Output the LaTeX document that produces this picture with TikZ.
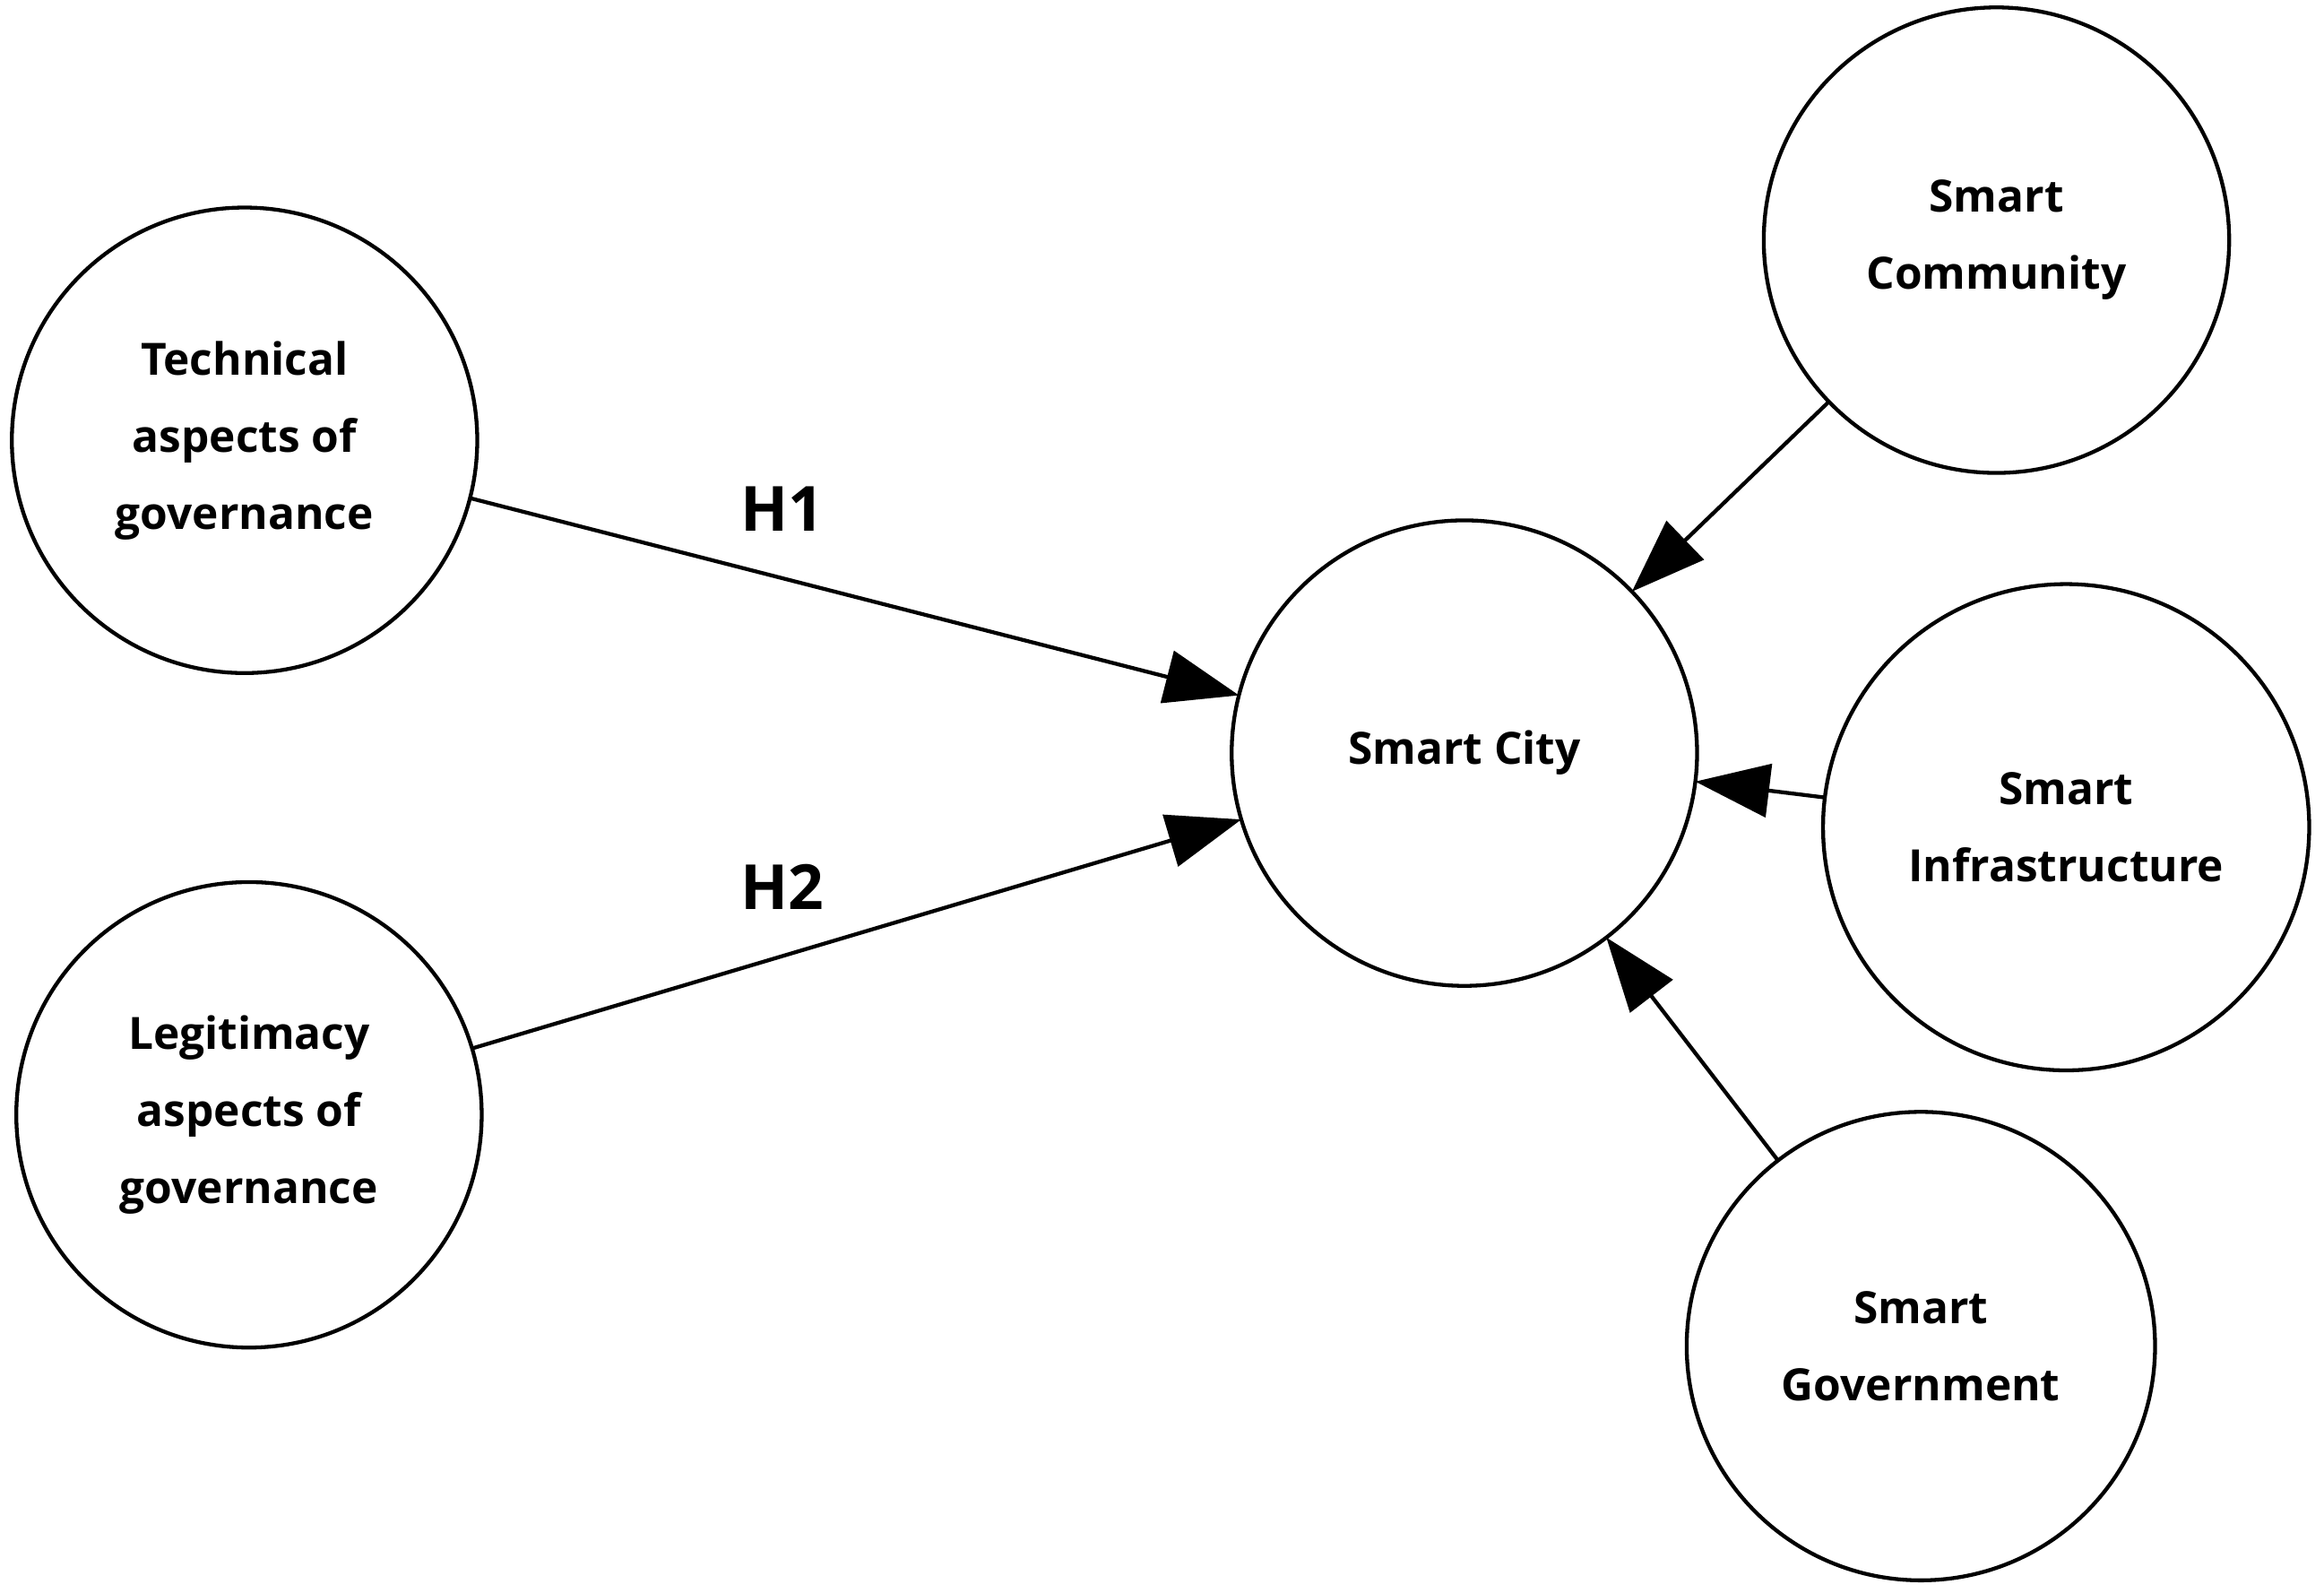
\documentclass[tikz,border=0pt]{standalone}
\usepackage{fontspec}
\setmainfont{Open Sans}
\usetikzlibrary{arrows.meta}
\begin{document}
\begin{tikzpicture}[x=1pt,y=-1pt,
  cnode/.style={circle,draw,line width=2.6pt,minimum size=314pt,inner sep=0pt,outer sep=0pt,align=center,font=\fontsize{30}{52}\selectfont\bfseries},
  conn/.style={line width=2.6pt,-{Triangle[length=50pt,width=36pt]}},
  hlab/.style={font=\fontsize{42}{50}\selectfont\bfseries}]
\useasboundingbox (0,0) rectangle (1568,1074);
\node[cnode] (tech) at (165,297) {Technical\\aspects of\\governance};
\node[cnode] (legit) at (168,752) {Legitimacy\\aspects of\\governance};
\node[cnode] (city) at (988,508) {Smart City};
\node[cnode] (comm) at (1347,162) {Smart\\Community};
\node[cnode,minimum size=328pt] (infra) at (1394,558) {Smart\\Infrastructure};
\node[cnode,minimum size=316pt] (gov) at (1296,908) {Smart\\Government};
\draw[conn] (tech) -- (city);
\draw[conn] (legit) -- (city);
\draw[conn] (comm) -- (city);
\draw[conn] (infra) -- (city);
\draw[conn] (gov) -- (city);
\node[hlab] (h1) at (528,343) {H1};
\node[hlab] (h2) at (528,598) {H2};
\end{tikzpicture}
\end{document}
